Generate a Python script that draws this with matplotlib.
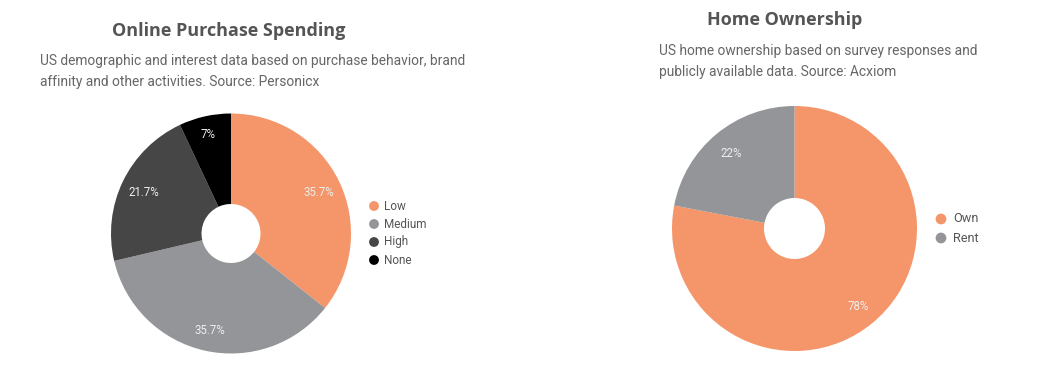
import matplotlib
matplotlib.use("Agg")
import matplotlib.pyplot as plt
import numpy as np

W, H = 1051, 369

# Online purchase spending
spend_labels = ["Low", "Medium", "High", "None"]
spend_values = [35.7, 35.7, 21.7, 7.0]
spend_pct = ["35.7%", "35.7%", "21.7%", "7%"]
spend_colors = ["#F5966A", "#939598", "#464646", "#000000"]

# Home ownership
home_labels = ["Own", "Rent"]
home_values = [78, 22]
home_pct = ["78%", "22%"]
home_colors = ["#F5966A", "#939598"]

TITLE_COLOR = "#555555"
SUB_COLOR = "#666666"
LEG_COLOR = "#555555"

fig = plt.figure(figsize=(W / 100, H / 100), dpi=100)
fig.patch.set_facecolor("white")


def donut(cx, cy, r_px, hole_px, values, colors, pct):
    pad = 6
    size = 2 * (r_px + pad)
    ax = fig.add_axes([(cx - r_px - pad) / W, (H - cy - r_px - pad) / H,
                       size / W, size / H])
    ax.pie(values, colors=colors, startangle=90,
           counterclock=False, radius=1.0,
           wedgeprops=dict(width=1 - hole_px / r_px,
                           edgecolor="none", linewidth=0))
    lim = (r_px + pad) / r_px
    ax.set_xlim(-lim, lim)
    ax.set_ylim(-lim, lim)
    ax.set_aspect("equal")
    ax.axis("off")
    # value labels placed at each wedge's mid-angle
    total = sum(values)
    start = 90.0
    for v, t in zip(values, pct):
        span = 360.0 * v / total
        mid = np.deg2rad(start - span / 2)
        start -= span
        rr = 0.81 if span > 40 else 0.86
        ax.text(rr * np.cos(mid), rr * np.sin(mid) - 0.015, t, ha="center",
                va="center", color="#EEEEEE", fontsize=8.3,
                family="Roboto")
    return ax


donut(231, 233.5, 120, 29.5, spend_values, spend_colors, spend_pct)
donut(794.5, 228.5, 122.5, 30.5, home_values, home_colors, home_pct)

# overlay in pixel coordinates for titles, subtitles and legends
ov = fig.add_axes([0, 0, 1, 1])
ov.set_xlim(0, W)
ov.set_ylim(H, 0)
ov.axis("off")

ov.text(229, 31, "Online Purchase Spending", ha="center", va="center",
        fontsize=13, fontweight="bold", color=TITLE_COLOR, family="Open Sans")
ov.text(40, 61, "US demographic and interest data based on purchase behavior, brand",
        ha="left", va="center", fontsize=9.95, color=SUB_COLOR, family="Roboto")
ov.text(40, 82, "affinity and other activities. Source: Personicx",
        ha="left", va="center", fontsize=9.95, color=SUB_COLOR, family="Roboto")

ov.text(785, 20, "Home Ownership", ha="center", va="center",
        fontsize=13, fontweight="bold", color=TITLE_COLOR, family="Open Sans")
ov.text(659, 51, "US home ownership based on survey responses and",
        ha="left", va="center", fontsize=9.95, color=SUB_COLOR, family="Roboto")
ov.text(659, 72, "publicly available data. Source: Acxiom",
        ha="left", va="center", fontsize=9.95, color=SUB_COLOR, family="Roboto")

for i, (lab, col) in enumerate(zip(spend_labels, spend_colors)):
    y = 206 + 18 * i
    ov.scatter([374], [y], s=50, color=col, edgecolors="none")
    ov.text(384, y, lab, ha="left", va="center", fontsize=8.5,
            color=LEG_COLOR, family="Roboto")

for i, (lab, col) in enumerate(zip(home_labels, home_colors)):
    y = 219 + 19 * i
    ov.scatter([941], [y], s=60, color=col, edgecolors="none")
    ov.text(953, y, lab, ha="left", va="center", fontsize=9.2,
            color=LEG_COLOR, family="Roboto")

fig.savefig("out.png", dpi=100, facecolor="white")
